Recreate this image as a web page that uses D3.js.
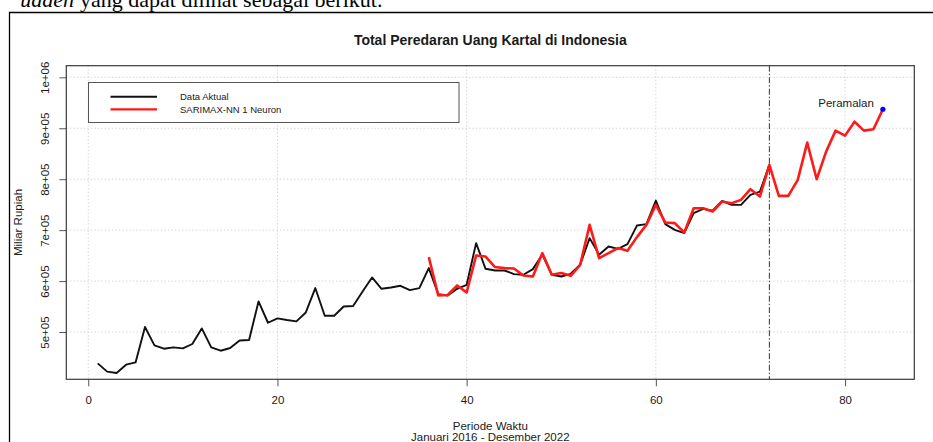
<!DOCTYPE html>
<html>
<head>
<meta charset="utf-8">
<script src="https://cdn.jsdelivr.net/npm/d3@7"></script>
<style>
  html, body { margin: 0; padding: 0; background: #fff; }
  svg { display: block; }
  text { font-family: "Liberation Sans", Arial, sans-serif; fill: #1a1a1a; }
</style>
</head>
<body>
<svg id="chart" width="933" height="442"></svg>
<script>
// Monthly currency in circulation (billion rupiah), period 1..72 = Jan 2016 - Dec 2022
const actualPeriods = d3.range(1, 73);
const actualValues = [
  438400, 422200, 419600, 435900, 440400, 509800, 473700, 467300, 469800, 467900, 476500, 507100,
  469800, 463300, 468600, 483500, 484300, 560000, 518200, 526700, 523500, 520800, 538400, 586300,
  532000, 532000, 550200, 551000, 579600, 607100, 584900, 587500, 590800, 582300, 586300, 625500,
  574500, 571800, 584900, 592700, 674500, 624100, 620800, 620800, 613700, 612400, 623500, 652000,
  612400, 609000, 614300, 632000, 684300, 651600, 667800, 663300, 672500, 709000, 711800, 758000,
  711800, 700600, 694100, 733300, 741800, 738400, 757500, 749600, 749600, 769200, 775700, 828000
];

// SARIMAX-NN (1 neuron) fitted values from period 36, forecasts for 73..84
const modelPeriods = d3.range(36, 85);
const modelValues = [
  647000, 571800, 572700, 591400, 577600, 650200, 648200, 627500, 625500, 624700, 611000, 609000,
  654900, 612400, 615700, 610400, 632000, 710400, 645100, 654900, 664700, 659400, 686300, 710400,
  749600, 714900, 713700, 695300, 743100, 743100, 736500, 756100, 752900, 759400, 780400, 765900,
  828000, 767300, 767300, 798600, 871800, 799900, 854100, 895300, 885500, 912900, 895300, 898000,
  937300
];

const xTicks = [0, 20, 40, 60, 80];
const yTicks = [500000, 600000, 700000, 800000, 900000, 1000000];
const yLabels = ["5e+05", "6e+05", "7e+05", "8e+05", "9e+05", "1e+06"];
const splitPeriod = 72;
const legendLabels = ["Data Aktual", "SARIMAX-NN 1 Neuron"];
const legendColors = ["#111111", "#ff1a1a"];

const svg = d3.select("#chart");

// Surrounding document text and frame
const serif = "'Liberation Serif', 'Times New Roman', serif";
svg.append("text").attr("x", 74).attr("y", 7).attr("text-anchor", "end")
  .style("font-family", serif).style("font-size", "22px").style("font-style", "italic")
  .style("fill", "#000").text("uaden");
svg.append("text").attr("x", 80).attr("y", 7).attr("text-anchor", "start")
  .style("font-family", serif).style("font-size", "22px")
  .style("fill", "#000").text("yang dapat dilihat sebagai berikut.");

svg.append("path")
  .attr("d", "M9.5,442 V12.5 H933")
  .attr("fill", "none").attr("stroke", "#000").attr("stroke-width", 1.3);

// Plot region
const plot = { left: 66.3, right: 914.3, top: 65.7, bottom: 379.3 };

// R-style 4% expansion of the data range
const xLim = [1, 84], yLim = [430000, 1000000];
const xPad = (xLim[1] - xLim[0]) * 0.04, yPad = (yLim[1] - yLim[0]) * 0.04;
const x = d3.scaleLinear().domain([xLim[0] - xPad, xLim[1] + xPad]).range([plot.left, plot.right]);
const y = d3.scaleLinear().domain([yLim[0] - yPad, yLim[1] + yPad]).range([plot.bottom, plot.top]);

// Grid
const grid = svg.append("g").attr("stroke", "#d6d6d6").attr("stroke-width", 1).attr("stroke-dasharray", "1.5,2");
grid.selectAll("line.v").data(xTicks).join("line")
  .attr("x1", d => x(d)).attr("x2", d => x(d)).attr("y1", plot.top).attr("y2", plot.bottom);
grid.selectAll("line.h").data(yTicks).join("line")
  .attr("x1", plot.left).attr("x2", plot.right).attr("y1", d => y(d)).attr("y2", d => y(d));

// Axes
const xAxis = svg.append("g").attr("transform", `translate(0,${plot.bottom})`)
  .call(d3.axisBottom(x).tickValues(xTicks).tickSize(7).tickPadding(10).tickFormat(d3.format("d")));
xAxis.select(".domain").remove();
xAxis.selectAll(".tick line").attr("stroke", "#555");
xAxis.selectAll(".tick text").style("font-size", "11.5px").attr("fill", "#1a1a1a");

const yAxis = svg.append("g").attr("transform", `translate(${plot.left},0)`)
  .call(d3.axisLeft(y).tickValues(yTicks).tickSize(7).tickFormat((d, i) => yLabels[i]));
yAxis.select(".domain").remove();
yAxis.selectAll(".tick line").attr("stroke", "#555");
yAxis.selectAll(".tick text")
  .attr("x", null).attr("dy", null)
  .attr("transform", "translate(-17,0) rotate(-90)")
  .attr("text-anchor", "middle")
  .style("font-size", "11.5px").attr("fill", "#1a1a1a");

// Plot box
svg.append("rect")
  .attr("x", plot.left).attr("y", plot.top)
  .attr("width", plot.right - plot.left).attr("height", plot.bottom - plot.top)
  .attr("fill", "none").attr("stroke", "#3a3a3a").attr("stroke-width", 1.2);

// Titles
svg.append("text").attr("x", (plot.left + plot.right) / 2).attr("y", 45)
  .attr("text-anchor", "middle").style("font-size", "14px").style("font-weight", "bold")
  .text("Total Peredaran Uang Kartal di Indonesia");
svg.append("text").attr("x", (plot.left + plot.right) / 2).attr("y", 430)
  .attr("text-anchor", "middle").style("font-size", "11.5px").text("Periode Waktu");
svg.append("text").attr("x", (plot.left + plot.right) / 2).attr("y", 441)
  .attr("text-anchor", "middle").style("font-size", "11.5px").text("Januari 2016 - Desember 2022");
svg.append("text")
  .attr("transform", `translate(22,${(plot.top + plot.bottom) / 2}) rotate(-90)`)
  .attr("text-anchor", "middle").style("font-size", "11.5px").text("Miliar Rupiah");

// Split between fitted and forecast periods
svg.append("line")
  .attr("x1", x(splitPeriod)).attr("x2", x(splitPeriod))
  .attr("y1", plot.top).attr("y2", plot.bottom)
  .attr("stroke", "#333").attr("stroke-width", 1).attr("stroke-dasharray", "6,2,1.5,2");

// Series
const line = d3.line().x(d => x(d[0])).y(d => y(d[1]));
svg.append("path")
  .datum(actualPeriods.map((p, i) => [p, actualValues[i]]))
  .attr("d", line).attr("fill", "none")
  .attr("stroke", legendColors[0]).attr("stroke-width", 1.9).attr("stroke-linejoin", "round");
svg.append("path")
  .datum(modelPeriods.map((p, i) => [p, modelValues[i]]))
  .attr("d", line).attr("fill", "none")
  .attr("stroke", legendColors[1]).attr("stroke-width", 2.6).attr("stroke-linejoin", "round");

// Final forecast point and label
const lastP = modelPeriods[modelPeriods.length - 1], lastV = modelValues[modelValues.length - 1];
svg.append("circle").attr("cx", x(lastP)).attr("cy", y(lastV)).attr("r", 2.6).attr("fill", "#0000ff");
svg.append("text").attr("x", x(lastP) - 9).attr("y", y(lastV) - 2)
  .attr("text-anchor", "end").style("font-size", "11.5px").attr("fill", "#222").text("Peramalan");

// Legend
const legend = svg.append("g");
legend.append("rect").attr("x", 88.5).attr("y", 82.5).attr("width", 370.5).attr("height", 40)
  .attr("fill", "#fff").attr("stroke", "#555").attr("stroke-width", 1);
legendLabels.forEach((lab, i) => {
  const ly = 96.7 + i * 12.6;
  legend.append("line").attr("x1", 110.5).attr("x2", 157).attr("y1", ly).attr("y2", ly)
    .attr("stroke", legendColors[i]).attr("stroke-width", i === 0 ? 1.9 : 2.2);
  legend.append("text").attr("x", 180).attr("y", ly + 3.3)
    .style("font-size", "9.5px").text(lab);
});
</script>
</body>
</html>
